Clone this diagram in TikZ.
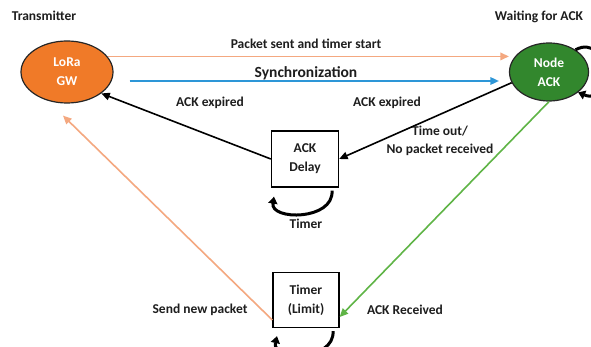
\documentclass[tikz,border=0pt]{standalone}
\usepackage{fontspec}
\setmainfont{Carlito}
\usetikzlibrary{arrows.meta,calc,shapes.geometric}
\definecolor{gwfill}{RGB}{240,122,40}
\definecolor{ackfill}{RGB}{50,135,45}
\definecolor{lorange}{RGB}{244,168,128}
\definecolor{syncblue}{RGB}{45,150,215}
\definecolor{gline}{RGB}{95,180,70}
\definecolor{txt}{RGB}{30,30,30}
\tikzset{
  stateell/.style={ellipse, draw=black!85, line width=1.2pt, text=white, align=center, inner sep=0pt,
    font=\bfseries\fontsize{13.5}{19}\selectfont},
  boxst/.style={rectangle, draw=black, line width=1.3pt, fill=white, text=txt, align=center, inner sep=0pt,
    font=\bfseries\fontsize{13.5}{19}\selectfont},
  lbl/.style={text=txt, align=center, inner sep=0pt, font=\bfseries\fontsize{13.5}{17.5}\selectfont},
  arr/.style={line width=1.6pt, -{Triangle[length=8.5pt,width=7.5pt]}},
  loopst/.style={line width=3pt, black, -{Triangle[length=7pt,width=9pt]}}
}
\begin{document}
\begin{tikzpicture}[x=1pt,y=-1pt]
\useasboundingbox (0,0) rectangle (591,347);
\fill[white] (0,0) rectangle (591,347);

\node[stateell, fill=gwfill, minimum width=92pt, minimum height=62pt] (gw) at (67,72) {LoRa\\GW};
\node[stateell, fill=ackfill, minimum width=79pt, minimum height=58pt] (ack) at (549,72) {Node\\ACK};
\node[boxst, minimum width=67pt, minimum height=56pt] (delay) at (305,159) {ACK\\Delay};
\node[boxst, minimum width=66pt, minimum height=55pt] (timer) at (306,300) {Timer\\(Limit)};

\node[lbl] (ltrans) at (44,16) {Transmitter};
\node[lbl] (lwait) at (539,17) {Waiting for ACK};
\node[lbl] (lpacket) at (306,44) {Packet sent and timer start};
\node[lbl, font=\bfseries\fontsize{15.5}{18}\selectfont] (lsync) at (306,73) {Synchronization};
\node[lbl] (lexp1) at (210,103) {ACK expired};
\node[lbl] (lexp2) at (387,103) {ACK expired};
\node[lbl] (ltimeout) at (440,141) {Time out/\\No packet received};
\node[lbl] (ltimer) at (306,224) {Timer};
\node[lbl] (lsend) at (200,310) {Send new packet};
\node[lbl] (lrecv) at (405,310) {ACK Received};

\draw[arr, lorange] (gw.21) -- (gw.21 -| ack.west);
\draw[arr, syncblue] ($(gw.east)+(16,9)$) -- ($(ack.west)+(-10,9)$);
\draw[arr, black] (ack.196) -- (delay.east);
\draw[arr, black] (delay.west) -- (gw.-32);
\draw[arr, gline] (ack.south) -- ($(timer.east)+(0,17)$);
\draw[arr, lorange] ($(timer.west)+(0,20)$) -- ($(gw.south)+(-4,12)$);

\draw[loopst] ($(delay.south)+(27,3)$) .. controls ($(delay.south)+(29,33)$) and ($(delay.south)+(-35,33)$) .. ($(delay.south)+(-31,9)$);
\draw[loopst] ($(timer.south)+(27,3)$) .. controls ($(timer.south)+(29,33)$) and ($(timer.south)+(-35,33)$) .. ($(timer.south)+(-29,8)$);
\draw[loopst] (ack.40) .. controls ($(ack.east)+(20,-40)$) and ($(ack.east)+(25,35)$) .. (ack.-35);
\end{tikzpicture}
\end{document}
